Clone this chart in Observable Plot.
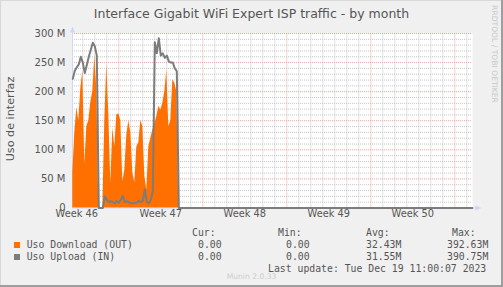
<!DOCTYPE html>
<html>
<head>
<meta charset="utf-8">
<script src="https://cdn.jsdelivr.net/npm/d3@7"></script>
<script src="https://cdn.jsdelivr.net/npm/@observablehq/plot@0.6"></script>
<style>
html, body { margin: 0; padding: 0; background: #f0f0f0; }
#wrap { position: relative; width: 503px; height: 287px; background: #f0f0f0; overflow: hidden;
        font-family: "DejaVu Sans", sans-serif; color: #555;
        box-shadow: inset -2px -2px 0 #9e9e9e, inset 1px 1px 0 #d8d8d8; }
#chart { position: absolute; left: 0; top: 0; }
.t { position: absolute; white-space: pre; line-height: 1; transform: translateY(-50%); }
.mono { font-family: "DejaVu Sans Mono", monospace; font-size: 9.8px; }
.sq { position: absolute; width: 6px; height: 6px; }
</style>
</head>
<body>
<div id="wrap"><div id="chart"></div></div>
<script>
// ---------- data ----------
const title = "Interface Gigabit WiFi Expert ISP traffic - by month";
const yLabel = "Uso de interfaz";
const times = [
  "2023-11-16T04:00Z","2023-11-16T08:00Z","2023-11-16T12:00Z","2023-11-16T16:00Z","2023-11-16T20:00Z",
  "2023-11-17T00:00Z","2023-11-17T04:00Z","2023-11-17T08:00Z","2023-11-17T12:00Z","2023-11-17T16:00Z","2023-11-17T20:00Z",
  "2023-11-18T00:00Z","2023-11-18T04:00Z","2023-11-18T08:00Z","2023-11-18T12:00Z","2023-11-18T16:00Z","2023-11-18T20:00Z",
  "2023-11-19T00:00Z","2023-11-19T04:00Z","2023-11-19T08:00Z","2023-11-19T12:00Z","2023-11-19T16:00Z","2023-11-19T20:00Z",
  "2023-11-20T00:00Z","2023-11-20T04:00Z","2023-11-20T08:00Z","2023-11-20T12:00Z","2023-11-20T16:00Z","2023-11-20T20:00Z",
  "2023-11-21T00:00Z","2023-11-21T04:00Z","2023-11-21T08:00Z","2023-11-21T12:00Z","2023-11-21T16:00Z","2023-11-21T20:00Z",
  "2023-11-22T00:00Z","2023-11-22T04:00Z","2023-11-22T08:00Z","2023-11-22T12:00Z","2023-11-22T16:00Z","2023-11-22T20:00Z",
  "2023-11-23T00:00Z","2023-11-23T04:00Z","2023-11-23T08:00Z","2023-11-23T12:00Z","2023-11-23T16:00Z","2023-11-23T20:00Z",
  "2023-11-24T00:00Z","2023-11-24T04:00Z","2023-11-24T08:00Z","2023-11-24T12:00Z","2023-11-24T16:00Z","2023-11-24T20:00Z",
  "2023-11-25T00:00Z","2023-12-19T11:00Z"
];
// Mbit/s
const download = [62,130,172,150,205, 236,75,140,150,182,200, 262,205,0,0,0,150, 248,160,42,137,105,160,
  162,150,45,65,125,150, 130,60,44,105,112,150, 140,55,31,105,120,134, 145,157,175,168,180,200,
  237,140,150,220,215,200, 0, 0];
const upload = [222,236,242,247,260, 250,232,246,260,272,284, 278,262,0,0,0,20, 14,10,12,10,8,12,
  9,14,21,10,12,10, 8,8,9,9,13,10, 12,32,10,8,14,28, 285,266,292,262,266,258,
  262,252,250,250,240,235, 0, 0];
const timeDomain = ["2023-11-16T03:24Z", "2023-12-19T11:24Z"];
const yTicks = [0, 50, 100, 150, 200, 250, 300];
const yTickLabels = ["0", "50 M", "100 M", "150 M", "200 M", "250 M", "300 M"];
const weekTicks = ["2023-11-16T12:00Z","2023-11-23T12:00Z","2023-11-30T12:00Z","2023-12-07T12:00Z","2023-12-14T12:00Z"];
const weekLabels = ["Week 46", "Week 47", "Week 48", "Week 49", "Week 50"];
const legendNames = ["Uso Download (OUT)", "Uso Upload (IN)"];
const legendCur = ["0.00", "0.00"];
const legendMin = ["0.00", "0.00"];
const legendAvg = ["32.43M", "31.55M"];
const legendMax = ["392.63M", "390.75M"];
const lastUpdate = "Last update: Tue Dec 19 11:00:07 2023";
const watermark = "Munin 2.0.33";
const sideMark = "RRDTOOL / TOBI OETIKER";

// ---------- chart ----------
const colDl = "#ff7000", colUl = "#7c7c7c", colAxis = "#cfd6f8";
const t0 = new Date(timeDomain[0]), t1 = new Date(timeDomain[1]);
const data = times.map((t, i) => ({date: new Date(t), dl: download[i], ul: upload[i]}));
const minorY = d3.range(10, 300, 10).filter(v => v % 50 !== 0);
const majorY = yTicks.filter(v => v > 0);
const majorX = d3.utcMonday.range(t0, t1);
const minorX = d3.utcDay.range(t0, t1).filter(d => d.getUTCDay() !== 1);
const hour = 3600e3;
const axisEndX = new Date(+t1 + 10 * hour);
const arrowX = new Date(+t1 + 12 * hour);
const rightArrow = {draw(ctx) { ctx.moveTo(3, 0); ctx.lineTo(-3, -2.6); ctx.lineTo(-3, 2.6); ctx.closePath(); }};
const upArrow = {draw(ctx) { ctx.moveTo(0, -3); ctx.lineTo(-2.6, 3); ctx.lineTo(2.6, 3); ctx.closePath(); }};

const chart = Plot.plot({
  width: 503, height: 222,
  marginLeft: 72, marginRight: 31, marginTop: 33, marginBottom: 14.5,
  style: {background: "transparent", fontFamily: "DejaVu Sans, sans-serif", color: "#555", overflow: "visible"},
  x: {type: "utc", domain: [t0, t1], axis: null},
  y: {domain: [0, 300], axis: null},
  marks: [
    Plot.frame({fill: "#ffffff", stroke: "none"}),
    Plot.ruleY(minorY, {stroke: "#c4c4c4", strokeDasharray: "1,1"}),
    Plot.ruleX(minorX, {y1: 0, y2: 300, stroke: "#c4c4c4", strokeDasharray: "1,1"}),
    Plot.ruleY(majorY, {stroke: "#eaa2a2", strokeDasharray: "1,1"}),
    Plot.ruleX(majorX, {y1: 0, y2: 300, stroke: "#eaa2a2", strokeDasharray: "1,1"}),
    Plot.ruleX([t0], {y1: 0, y2: 306, stroke: colAxis}),
    Plot.ruleY([0], {x1: t0, x2: axisEndX, stroke: colAxis}),
    Plot.dot([t0], {x: d => d, y: 307, symbol: upArrow, fill: colAxis, stroke: "none", r: 3}),
    Plot.dot([arrowX], {x: d => d, y: 0, symbol: rightArrow, fill: colAxis, stroke: "none", r: 3}),
    Plot.areaY(data, {x: "date", y: "dl", fill: colDl}),
    Plot.lineY(data, {x: "date", y: "ul", stroke: colUl, strokeWidth: 2}),
    Plot.text(yTicks.map((v, i) => ({v, label: yTickLabels[i]})),
      {y: "v", text: "label", frameAnchor: "left", dx: -7, textAnchor: "end", fontSize: 10, fill: "#555"}),
    Plot.text(weekTicks.map((t, i) => ({date: new Date(t), label: weekLabels[i]})),
      {x: "date", text: "label", frameAnchor: "bottom", dy: 9, fontSize: 9.8, fill: "#555"})
  ]
});
document.getElementById("chart").append(chart);

// ---------- texts / legend ----------
const wrap = document.getElementById("wrap");
function addText(txt, x, y, cls, extra) {
  const d = document.createElement("div");
  d.className = "t " + (cls || "");
  d.textContent = txt;
  d.style.left = x + "px";
  d.style.top = y + "px";
  if (extra) Object.assign(d.style, extra);
  wrap.append(d);
  return d;
}
addText(title, 0, 14, "", {width: "503px", textAlign: "center", fontSize: "12.5px"});
addText(yLabel, 11, 118.5, "", {fontSize: "11.2px", transform: "translate(-50%,-50%) rotate(-90deg)"});
addText(sideMark, 494, 54, "", {fontSize: "7.6px", color: "#c8c8c8", transform: "translate(-50%,-50%) rotate(90deg)"});
addText(watermark, 0, 277, "", {width: "503px", textAlign: "center", fontSize: "7.6px", color: "#cdcdcd"});

addText("Cur:", 192, 233, "mono");
addText("Min:", 278, 233, "mono");
addText("Avg:", 366, 233, "mono");
addText("Max:", 452, 233, "mono");
const colors = [colDl, colUl];
const rowsY = [245, 257.3];
legendNames.forEach((name, i) => {
  const y = rowsY[i];
  const sq = document.createElement("div");
  sq.className = "sq";
  sq.style.left = "14px"; sq.style.top = (y - 3) + "px"; sq.style.background = colors[i];
  wrap.append(sq);
  addText(name, 26.7, y, "mono");
  addText(legendCur[i], 198, y, "mono");
  addText(legendMin[i], 286, y, "mono");
  addText(legendAvg[i], 366, y, "mono");
  addText(legendMax[i], 447, y, "mono");
});
addText(lastUpdate, 268, 269.3, "mono");
</script>
</body>
</html>
